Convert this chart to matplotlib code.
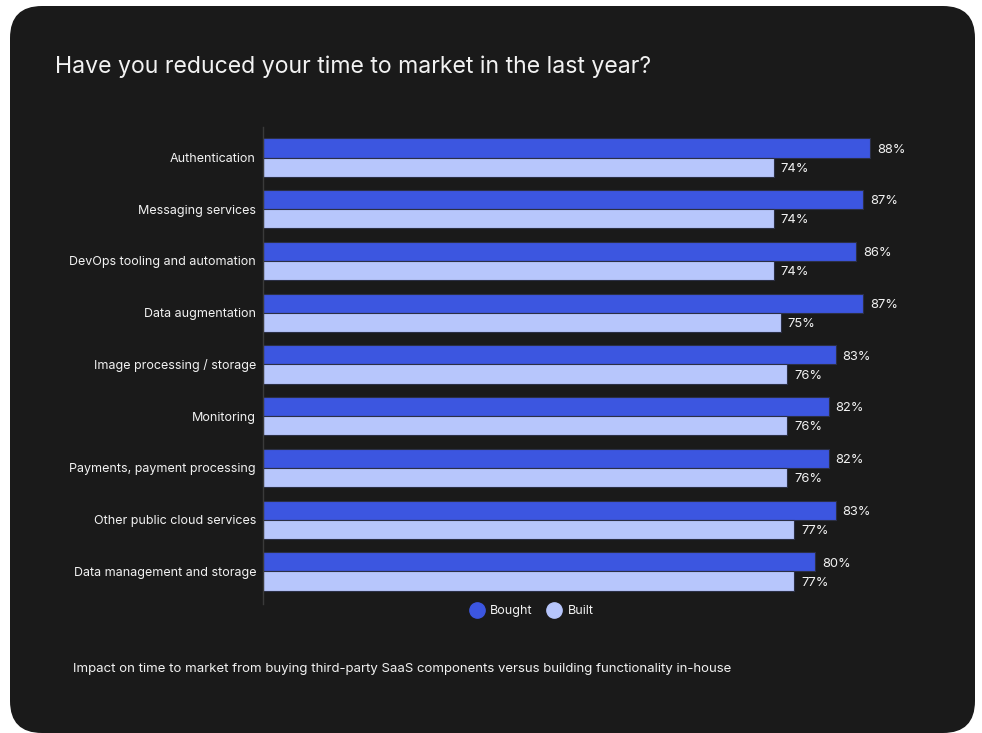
import matplotlib
matplotlib.use("Agg")
import matplotlib.pyplot as plt
import matplotlib.patches as mpatches
from matplotlib.lines import Line2D
import numpy as np

plt.rcParams["font.family"] = ["Inter", "DejaVu Sans"]

categories = [
    "Authentication",
    "Messaging services",
    "DevOps tooling and automation",
    "Data augmentation",
    "Image processing / storage",
    "Monitoring",
    "Payments, payment processing",
    "Other public cloud services",
    "Data management and storage",
]
bought = [88, 87, 86, 87, 83, 82, 82, 83, 80]
built = [74, 74, 74, 75, 76, 76, 76, 77, 77]

BG = "#1a1a1a"
BOUGHT_COLOR = "#3c56e0"
BUILT_COLOR = "#b7c6fc"
TEXT = "#f2f2f2"

W, H = 982, 733
fig = plt.figure(figsize=(W / 100, H / 100), dpi=100, facecolor="white")

# dark rounded card (pixel coordinates)
card = mpatches.FancyBboxPatch(
    (10, 0), 965, 727,
    boxstyle="round,pad=0,rounding_size=32",
    transform=None, facecolor=BG, edgecolor="none", zorder=-10,
)
fig.patches.append(card)

# axes placed in pixel terms
left, right, top, bottom = 263, 953, 127, 604
ax = fig.add_axes([left / W, 1 - bottom / H, (right - left) / W, (bottom - top) / H])
ax.set_facecolor("none")
ax.set_zorder(2)

n = len(categories)
y = np.arange(n)
h = 0.37
ax.barh(y - h / 2, bought, height=h, color=BOUGHT_COLOR, edgecolor="#2b2f45", linewidth=0.8, zorder=2)
ax.barh(y + h / 2, built, height=h, color=BUILT_COLOR, edgecolor="#2b2f45", linewidth=0.8, zorder=2)

for i in range(n):
    ax.annotate(f"{bought[i]}%", (bought[i], y[i] - h / 2), xytext=(5, -1.2), textcoords="offset points",
                va="center", ha="left", color=TEXT, fontsize=9.3)
    ax.annotate(f"{built[i]}%", (built[i], y[i] + h / 2), xytext=(5, -1.2), textcoords="offset points",
                va="center", ha="left", color=TEXT, fontsize=9.3)

ax.set_xlim(0, 100)
ax.set_ylim(8.63, -0.59)
ax.set_yticks(y)
ax.set_yticklabels(categories, color=TEXT, fontsize=9)
ax.tick_params(axis="y", length=0, pad=5)
ax.set_xticks([])
for s in ["top", "right", "bottom"]:
    ax.spines[s].set_visible(False)
ax.spines["left"].set_color("#3a3a3a")
ax.spines["left"].set_linewidth(1)

# legend
handles = [
    Line2D([0], [0], marker="o", linestyle="none", markersize=11, markerfacecolor=BOUGHT_COLOR,
           markeredgecolor=BOUGHT_COLOR, label="Bought"),
    Line2D([0], [0], marker="o", linestyle="none", markersize=11, markerfacecolor=BUILT_COLOR,
           markeredgecolor=BUILT_COLOR, label="Built"),
]
fig.legend(handles=handles, loc="center", bbox_to_anchor=(529 / W, 1 - 611 / H), ncol=2,
           frameon=False, fontsize=9, labelcolor=TEXT, handletextpad=0.1, columnspacing=0.7)

fig.text(55 / W, 1 - 67 / H, "Have you reduced your time to market in the last year?",
         color=TEXT, fontsize=16.6, ha="left", va="center")
fig.text(73 / W, 1 - 669 / H,
         "Impact on time to market from buying third-party SaaS components versus building functionality in-house",
         color=TEXT, fontsize=9.5, ha="left", va="center")

fig.savefig("out.png", dpi=100, facecolor="white")
